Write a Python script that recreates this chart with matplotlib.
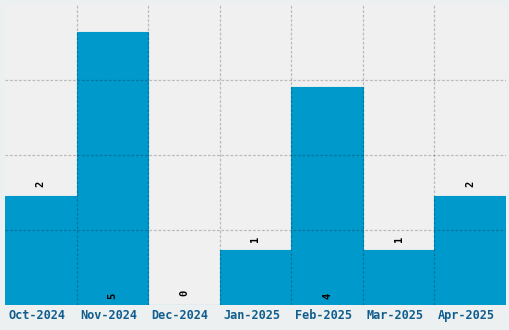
import numpy as np
import matplotlib.pyplot as plt

# --- data ---
months = ["Oct-2024", "Nov-2024", "Dec-2024", "Jan-2025", "Feb-2025", "Mar-2025", "Apr-2025"]
counts = [2, 5, 0, 1, 4, 1, 2]

y_max = 5.5
bar_color = "#0099cc"

fig = plt.figure(figsize=(5.1, 3.3), dpi=100, facecolor="#ecf0f1")
ax = fig.add_axes([5 / 510, (330 - 304.5) / 330, 501 / 510, 299.5 / 330])
ax.set_facecolor("#f0f0f0")

x = np.arange(len(months))
ax.bar(x, counts, width=1.0, color=bar_color, edgecolor=bar_color, linewidth=0.8, zorder=2)

ax.set_xlim(-0.5, len(months) - 0.5)
ax.set_ylim(0, y_max)

# value labels: tall bars get the label at the base, inside
for xi, v in zip(x, counts):
    if v >= 4:
        base, off = 0, 8.5
    else:
        base, off = v, 11.5
    ax.annotate(str(v), (xi, base), xytext=(0, off), textcoords="offset pixels",
                rotation=90, ha="center", va="center", fontsize=7.5,
                family="DejaVu Sans Mono", fontweight="bold", color="black", zorder=4)

# month labels, sitting a little left of the bar centres
for xi, m in zip(x, months):
    ax.annotate(m, (xi, 0), xytext=(-4, -11), textcoords="offset pixels",
                ha="center", va="center", fontsize=8.6, family="DejaVu Sans Mono",
                fontweight="bold", color="#115e8e", annotation_clip=False)

# grid
ax.set_xticks(np.arange(0.5, len(months) - 0.5))
ax.set_xticklabels([])
ax.set_yticks(np.linspace(0, y_max, 5)[1:-1])
ax.set_yticklabels([])
ax.tick_params(which="both", length=0)
dash = (0, (2.2, 1.4))
ax.grid(True, color="black", alpha=0.22, linestyle=dash, linewidth=0.9, zorder=3)
ax.set_axisbelow(False)
for s in ax.spines.values():
    s.set_visible(False)

fig.savefig("out.png", dpi=100, facecolor=fig.get_facecolor())
